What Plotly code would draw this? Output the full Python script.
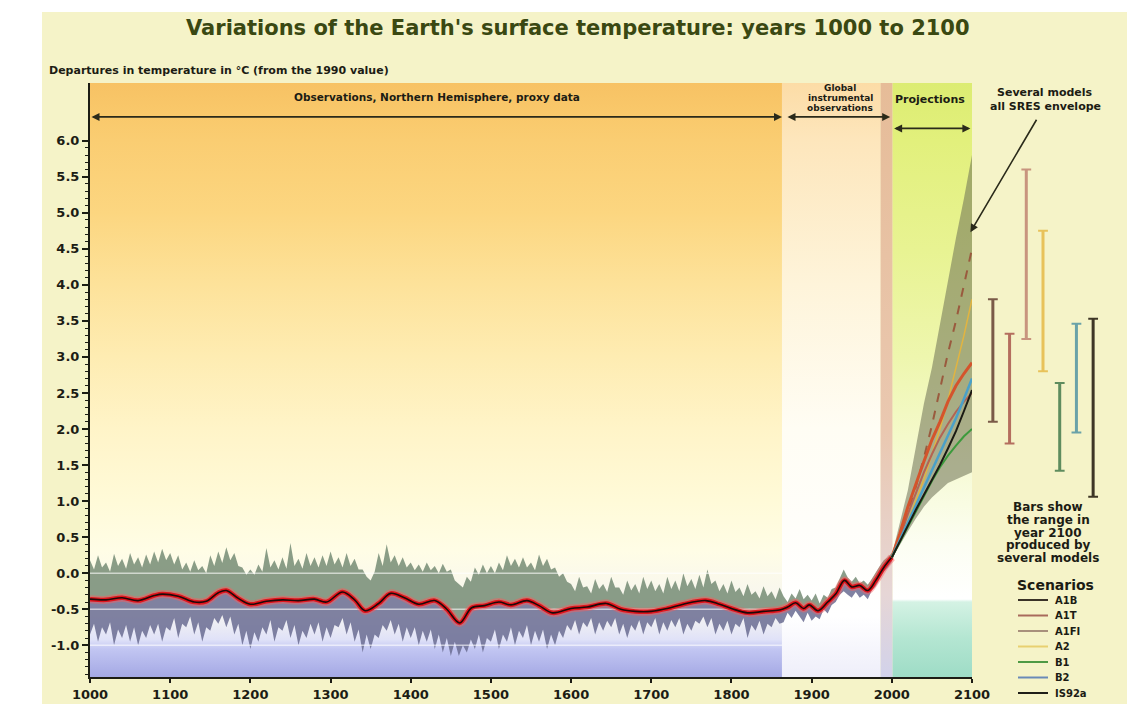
import plotly.graph_objects as go
import numpy as np

# ---------------- data ----------------
proxy_years = list(range(1000, 1861, 5))
proxy_upper = [0.18, 0.05, 0.25, 0.08, 0.15, 0.02, 0.27, 0.10, 0.20, 0.06, 0.28, 0.12, 0.22, 0.08, 0.26, 0.12, 0.30, 0.15, 0.34, 0.18,
               0.28, 0.12, 0.25, 0.05, 0.15, 0.02, 0.18, 0.04, 0.10, 0.00, 0.25, 0.10, 0.30, 0.14, 0.36, 0.18, 0.28, 0.10, 0.08, -0.02,
               0.05, -0.02, 0.12, 0.02, 0.35, 0.08, 0.18, 0.05, 0.22, 0.06, 0.42, 0.10, 0.20, 0.06, 0.28, 0.10, 0.22, 0.08, 0.25, 0.10,
               0.30, 0.12, 0.22, 0.08, 0.28, 0.10, 0.20, 0.05, 0.05, -0.05, -0.10, 0.02, 0.28, 0.10, 0.40, 0.15, 0.25, 0.10, 0.22, 0.08,
               0.15, 0.04, 0.12, 0.02, 0.15, 0.04, 0.10, 0.00, 0.13, 0.02, 0.05, -0.10, -0.15, -0.20, -0.05, -0.12, 0.08, -0.02, 0.12, 0.00,
               0.10, 0.00, 0.15, 0.04, 0.25, 0.10, 0.20, 0.08, 0.22, 0.08, 0.15, 0.04, 0.26, 0.10, 0.20, 0.05, 0.08, -0.05, 0.00, -0.12,
               -0.15, -0.25, -0.05, -0.20, -0.18, -0.28, -0.08, -0.22, -0.15, -0.26, -0.05, -0.20, -0.20, -0.30, -0.10, -0.24, -0.15, -0.28, -0.05, -0.22,
               -0.10, -0.25, -0.15, -0.28, -0.05, -0.22, -0.10, -0.25, 0.00, -0.18, -0.08, -0.22, -0.02, -0.20, 0.05, -0.15, -0.10, -0.25, -0.15, -0.28,
               -0.10, -0.26, -0.20, -0.32, -0.15, -0.30, -0.25, -0.35, -0.18, -0.32, -0.25, -0.36, -0.20]
proxy_lower = [-0.85, -0.70, -0.95, -0.75, -0.85, -0.68, -1.00, -0.78, -0.90, -0.72, -0.95, -0.75, -1.00, -0.80, -0.90, -0.72, -0.85, -0.70, -0.95, -0.75,
               -0.80, -0.62, -0.90, -0.70, -0.75, -0.60, -0.85, -0.68, -0.95, -0.75, -0.80, -0.62, -0.70, -0.58, -0.75, -0.60, -0.85, -0.70, -1.00, -0.80,
               -1.05, -0.82, -0.95, -0.75, -0.85, -0.65, -0.95, -0.75, -0.80, -0.65, -0.90, -0.72, -1.00, -0.80, -0.90, -0.70, -0.85, -0.68, -0.95, -0.75,
               -0.90, -0.72, -0.75, -0.62, -0.85, -0.68, -0.95, -0.78, -1.10, -0.85, -1.05, -0.85, -0.90, -0.72, -0.80, -0.65, -0.85, -0.70, -0.95, -0.75,
               -0.90, -0.75, -1.00, -0.80, -0.95, -0.78, -1.05, -0.85, -1.10, -0.90, -1.15, -0.95, -1.15, -1.00, -1.10, -0.92, -1.05, -0.85, -1.10, -0.90,
               -0.95, -0.78, -1.05, -0.85, -0.95, -0.75, -1.00, -0.80, -0.90, -0.72, -1.00, -0.80, -0.95, -0.78, -1.05, -0.85, -1.00, -0.80, -0.90, -0.72,
               -0.80, -0.65, -0.85, -0.68, -0.75, -0.62, -0.85, -0.68, -0.80, -0.66, -0.75, -0.62, -0.85, -0.70, -0.90, -0.72, -0.80, -0.65, -0.85, -0.68,
               -0.75, -0.62, -0.85, -0.68, -0.80, -0.65, -0.75, -0.62, -0.85, -0.70, -0.80, -0.66, -0.70, -0.60, -0.75, -0.62, -0.85, -0.70, -0.80, -0.66,
               -0.85, -0.70, -0.75, -0.62, -0.90, -0.72, -0.80, -0.66, -0.85, -0.70, -0.75, -0.62, -0.70]

inst_years = list(range(1865, 2001, 5))
inst_upper = [-0.32, -0.40, -0.28, -0.35, -0.22, -0.36, -0.30, -0.38, -0.28, -0.42,
              -0.30, -0.34, -0.22, -0.20, -0.08, 0.05, -0.06, -0.12, -0.05, -0.14,
              -0.10, -0.16, -0.08, 0.02, 0.10, 0.18, 0.22, 0.28]
inst_lower = [-0.68, -0.55, -0.62, -0.52, -0.60, -0.68, -0.55, -0.66, -0.60, -0.64,
              -0.50, -0.56, -0.44, -0.40, -0.30, -0.25, -0.30, -0.34, -0.26, -0.34,
              -0.30, -0.36, -0.24, -0.18, -0.08, 0.02, 0.08, 0.16]

smooth_years = [1000, 1020, 1040, 1060, 1080, 1090, 1110, 1130, 1145, 1160, 1170, 1185,
                1200, 1220, 1240, 1260, 1280, 1295, 1315, 1330, 1343, 1360, 1375, 1392,
                1410, 1430, 1445, 1461, 1476, 1492, 1510, 1525, 1545, 1560, 1577, 1600,
                1620, 1644, 1662, 1680, 1700, 1720, 1740, 1768, 1785, 1800, 1820, 1840,
                1860, 1870, 1880, 1890, 1897, 1908, 1920, 1930, 1941, 1950, 1960, 1970,
                1980, 1990, 2000]
smooth_temp = [-0.36, -0.37, -0.34, -0.38, -0.31, -0.29, -0.32, -0.40, -0.39, -0.27, -0.24, -0.35,
               -0.43, -0.39, -0.37, -0.38, -0.36, -0.40, -0.26, -0.37, -0.52, -0.42, -0.28, -0.34,
               -0.43, -0.38, -0.50, -0.69, -0.48, -0.45, -0.40, -0.44, -0.38, -0.45, -0.55, -0.49,
               -0.47, -0.42, -0.50, -0.53, -0.53, -0.49, -0.43, -0.38, -0.43, -0.49, -0.55, -0.53,
               -0.51, -0.47, -0.41, -0.49, -0.44, -0.52, -0.40, -0.29, -0.10, -0.19, -0.17, -0.24,
               -0.10, 0.08, 0.22]

proj_years = list(range(2000, 2101, 10))
env_upper = [0.25, 0.70, 1.15, 1.75, 2.35, 2.85, 3.45, 4.10, 4.65, 5.20, 5.80]
env_lower = [0.20, 0.40, 0.58, 0.76, 0.92, 1.05, 1.15, 1.25, 1.30, 1.35, 1.40]

scen_names = ["A1B", "A1T", "A1FI", "A2", "B1", "B2", "IS92a"]
scen_A1B = [0.22, 0.55, 0.92, 1.25, 1.55, 1.85, 2.10, 2.38, 2.60, 2.77, 2.92]
scen_A1T = [0.22, 0.50, 0.82, 1.12, 1.40, 1.65, 1.88, 2.07, 2.24, 2.38, 2.50]
scen_A1FI = [0.22, 0.50, 0.85, 1.20, 1.60, 2.05, 2.55, 3.05, 3.50, 4.00, 4.50]
scen_A2 = [0.22, 0.45, 0.72, 1.00, 1.30, 1.65, 2.00, 2.40, 2.85, 3.30, 3.80]
scen_B1 = [0.22, 0.43, 0.64, 0.86, 1.08, 1.28, 1.47, 1.63, 1.77, 1.90, 2.00]
scen_B2 = [0.22, 0.46, 0.70, 0.94, 1.18, 1.42, 1.66, 1.90, 2.15, 2.42, 2.70]
scen_IS92a = [0.22, 0.45, 0.66, 0.88, 1.08, 1.28, 1.50, 1.73, 1.97, 2.25, 2.54]

range_low = [2.10, 1.80, 3.25, 2.80, 1.42, 1.95, 1.06]
range_high = [3.80, 3.32, 5.60, 4.75, 2.64, 3.46, 3.53]

period_edges = [1000, 1863, 1986, 2001, 2100]

xtick_vals = list(range(1000, 2101, 100))
ytick_vals = [-1.0, -0.5, 0.0, 0.5, 1.0, 1.5, 2.0, 2.5, 3.0, 3.5, 4.0, 4.5, 5.0, 5.5, 6.0]
ytick_text = ["-1.0", "-0.5", "0.0", "0.5", "1.0", "1.5", "2.0", "2.5", "3.0",
              "3.5", "4.0", "4.5", "5.0", "5.5", "6.0"]

# ---------------- layout helpers ----------------
# body margin is removed by a post script, so figure pixels == window pixels
W, H = 1135, 704
PLOT_L, PLOT_R, PLOT_T, PLOT_B = 90, 1112, 83, 677
ML, MT, MR, MB = PLOT_L, PLOT_T, W - PLOT_R, H - PLOT_B
PW, PH = W - ML - MR, H - MT - MB
YMIN, YMAX = -1.44, 6.8


def fx(p):  # window pixel x -> paper
    return (p - PLOT_L) / PW


def fy(p):  # window pixel y -> paper
    return (PLOT_B - p) / PH


FONT = "DejaVu Sans"
INK = "#1c1c14"

fig = go.Figure()


def grad_region(x0, x1, stops):
    cs = [[(v - YMIN) / (YMAX - YMIN), c] for v, c in stops]
    fig.add_trace(go.Scatter(
        x=[x0, x1, x1, x0, x0], y=[YMIN, YMIN, YMAX, YMAX, YMIN],
        mode="lines", line=dict(width=0), fill="toself",
        fillgradient=dict(type="vertical", colorscale=cs, start=YMIN, stop=YMAX),
        hoverinfo="skip", showlegend=False))


# background bands of the periods
grad_region(period_edges[0], period_edges[1], [
    (-1.44, "#a4a8e4"), (-1.05, "#c2c6f2"), (-0.92, "#e0e2f8"), (-0.6, "#f4f3f2"),
    (0.3, "#fffde6"), (1.0, "#fffad8"), (2.0, "#fff4c8"), (3.0, "#feecb2"),
    (4.0, "#fde29a"), (5.0, "#fcd680"), (6.0, "#facd72"), (6.4, "#f9c86a"), (6.8, "#f7c264")])
grad_region(period_edges[1], period_edges[2], [
    (-1.44, "#eeeefa"), (-0.6, "#ffffff"), (2.0, "#fffdf4"), (4.0, "#fef4da"),
    (6.0, "#fde6bc"), (6.8, "#fcdca6")])
grad_region(period_edges[2], period_edges[3], [
    (-1.44, "#d2d2ea"), (-0.3, "#e6d6d6"), (2.0, "#eac8b0"), (6.8, "#e6bc98")])
grad_region(period_edges[3], period_edges[4], [
    (-1.44, "#9edcc6"), (-0.9, "#b4e6d2"), (-0.40, "#d4f2e4"), (-0.36, "#ffffff"),
    (0.4, "#fcfef2"), (1.5, "#f6fad4"), (3.0, "#eef6ae"), (4.5, "#e8f392"),
    (6.0, "#e2f07c"), (6.8, "#dcec72")])

# proxy + instrumental uncertainty band
band_years = proxy_years + inst_years
band_upper = proxy_upper + inst_upper
band_lower = proxy_lower + inst_lower
fig.add_trace(go.Scatter(x=band_years, y=band_upper, mode="lines", line=dict(width=0),
                         hoverinfo="skip", showlegend=False))
fig.add_trace(go.Scatter(x=smooth_years, y=smooth_temp, mode="lines",
                         line=dict(width=0, shape="spline"), fill="tonexty",
                         fillcolor="rgba(112,136,112,0.82)", hoverinfo="skip", showlegend=False))
fig.add_trace(go.Scatter(x=band_years, y=band_lower, mode="lines", line=dict(width=0),
                         fill="tonexty", fillcolor="rgba(106,108,146,0.85)",
                         hoverinfo="skip", showlegend=False))

# faint white reference lines across the proxy band
gx, gy = [], []
for v in [0.0, -0.5, -1.0]:
    gx += [period_edges[0], period_edges[1], None]
    gy += [v, v, None]
fig.add_trace(go.Scatter(x=gx, y=gy, mode="lines", line=dict(color="rgba(255,255,255,0.6)", width=1.5),
                         hoverinfo="skip", showlegend=False))

# smoothed reconstruction (red with black core)
fig.add_trace(go.Scatter(x=smooth_years, y=smooth_temp, mode="lines",
                         line=dict(color="rgba(255,90,90,0.45)", width=8, shape="spline"),
                         hoverinfo="skip", showlegend=False))
fig.add_trace(go.Scatter(x=smooth_years, y=smooth_temp, mode="lines",
                         line=dict(color="#e3141c", width=4.5, shape="spline"),
                         hoverinfo="skip", showlegend=False))
fig.add_trace(go.Scatter(x=smooth_years, y=smooth_temp, mode="lines",
                         line=dict(color="#200808", width=1.6, shape="spline"),
                         name="Observed", showlegend=False))

# projection envelope
fig.add_trace(go.Scatter(x=proj_years + proj_years[::-1], y=env_upper + env_lower[::-1],
                         mode="lines", line=dict(width=0), fill="toself",
                         fillcolor="rgba(108,112,84,0.55)", hoverinfo="skip", showlegend=False))

scen_series = [scen_A1B, scen_A1T, scen_A1FI, scen_A2, scen_B1, scen_B2, scen_IS92a]
scen_line_colors = ["#d4542c", "#b26454", "#9a5a3e", "#e2b440", "#3c9a3c", "#4aa0c8", "#1a1a14"]
scen_line_dash = ["solid", "solid", "dash", "solid", "solid", "solid", "solid"]
scen_line_width = [3, 2, 2, 1.5, 2, 2.5, 2]
draw_order = [3, 2, 1, 0, 5, 4, 6]
for i in draw_order:
    fig.add_trace(go.Scatter(x=proj_years, y=scen_series[i], mode="lines", name=scen_names[i],
                             line=dict(color=scen_line_colors[i], width=scen_line_width[i],
                                       dash=scen_line_dash[i]),
                             showlegend=False))

# range bars in 2100 on a categorical side axis
bar_colors = ["#7a5a48", "#b46e5e", "#c8947e", "#e8c25a", "#5e8c5e", "#6aa2a8", "#3e3626"]
for i, n in enumerate(scen_names):
    fig.add_trace(go.Scatter(x=[n, n], y=[range_low[i], range_high[i]], xaxis="x2", yaxis="y",
                             mode="lines+markers",
                             line=dict(color=bar_colors[i], width=3),
                             marker=dict(symbol="line-ew-open", size=7,
                                         line=dict(width=2, color="#4a3a30")),
                             showlegend=False, name=n))

# ---------------- layout ----------------
shapes = [
    dict(type="rect", xref="paper", yref="paper", x0=fx(42), x1=fx(1127), y0=fy(704), y1=fy(12),
         fillcolor="#f5f3c8", line=dict(width=0), layer="below"),
]


def label(text, xp, yp, size, anchor="center", color=INK):
    return dict(text=text, x=fx(xp), y=fy(yp), xref="paper", yref="paper", xanchor=anchor,
                yanchor="middle", showarrow=False,
                font=dict(family=FONT, size=size, color=color, weight="bold"))


annotations = [
    label("Variations of the Earth's surface temperature: years 1000 to 2100", 578, 28, 21,
          color="#3a4812"),
    label("Departures in temperature in °C (from the 1990 value)", 47, 70, 11, anchor="left"),
    label("Observations, Northern Hemisphere, proxy data", 437, 97, 10.5),
    label("Projections", 930, 99, 11),
]
for k, t in enumerate(["Global", "instrumental", "observations"]):
    annotations.append(label(t, 840, 88 + k * 10, 9))
for k, t in enumerate(["Several models", "all SRES envelope"]):
    annotations.append(label(t, 1045, 92 + k * 14, 11))
for k, t in enumerate(["Bars show", "the range in", "year 2100", "produced by", "several models"]):
    annotations.append(label(t, 1048, 507 + k * 12.8, 12))
annotations.append(label("Scenarios", 1055, 585, 14))

# period arrows
arrow_style = dict(showarrow=True, text="", arrowhead=2, arrowsize=1, arrowwidth=1.6,
                   arrowcolor="#2a2a1a", arrowside="end+start", standoff=0, startstandoff=0,
                   xref="x", yref="y", axref="x", ayref="y")
annotations.append(dict(x=period_edges[1], y=6.33, ax=period_edges[0], ay=6.33, **arrow_style))
annotations.append(dict(x=period_edges[3] - 3, y=6.33, ax=period_edges[1] + 5, ay=6.33, **arrow_style))
annotations.append(dict(x=period_edges[4] - 2, y=6.17, ax=period_edges[3], ay=6.17, **arrow_style))
# pointer to the envelope
annotations.append(dict(x=2098, y=4.73, xref="x", yref="y", ax=67, ay=-114, text="",
                        showarrow=True, arrowhead=2, arrowsize=1, arrowwidth=1.6,
                        arrowcolor="#2a2a1a", standoff=0))

# scenario key
legend_colors = ["#3a3228", "#a86a5c", "#a8907c", "#e8d070", "#4e9a44", "#6a8ab8", "#1e1e18"]
for i, n in enumerate(scen_names):
    yp = 600 + i * 15.5
    shapes.append(dict(type="line", xref="paper", yref="paper", x0=fx(1018), x1=fx(1048),
                       y0=fy(yp), y1=fy(yp), line=dict(color=legend_colors[i], width=2)))
    annotations.append(label(n, 1053, yp, 10, anchor="left"))

fig.update_layout(
    width=W, height=H,
    margin=dict(l=ML, r=MR, t=MT, b=MB, pad=0, autoexpand=False),
    paper_bgcolor="#ffffff", plot_bgcolor="#f5f3c8",
    showlegend=False,
    xaxis=dict(domain=[0, fx(972)], range=[1000, 2100], tickvals=xtick_vals, automargin=False,
               ticks="outside", ticklen=4, tickwidth=2, tickcolor=INK,
               showline=True, linewidth=2, linecolor=INK, showgrid=False, zeroline=False,
               tickfont=dict(family=FONT, size=13, color=INK, weight="bold")),
    xaxis2=dict(domain=[fx(984.5), fx(1101.5)], type="category", categoryorder="array",
                categoryarray=scen_names, range=[-0.5, 6.5], visible=False, anchor="y"),
    yaxis=dict(range=[YMIN, YMAX], tickvals=ytick_vals, ticktext=ytick_text, automargin=False,
               ticks="outside", ticklen=6, tickwidth=1.5, tickcolor=INK,
               minor=dict(tickvals=[round(v, 1) for v in np.arange(-1.4, 6.05, 0.1)],
                          ticks="outside", ticklen=3, tickwidth=1, tickcolor=INK),
               showline=True, linewidth=2, linecolor=INK, showgrid=False, zeroline=False,
               tickfont=dict(family=FONT, size=13, color=INK, weight="bold")),
    shapes=shapes, annotations=annotations,
)

fig.write_html("out.html", config={"displayModeBar": False},
               post_script="document.body.style.margin='0';document.body.style.overflow='hidden';")
